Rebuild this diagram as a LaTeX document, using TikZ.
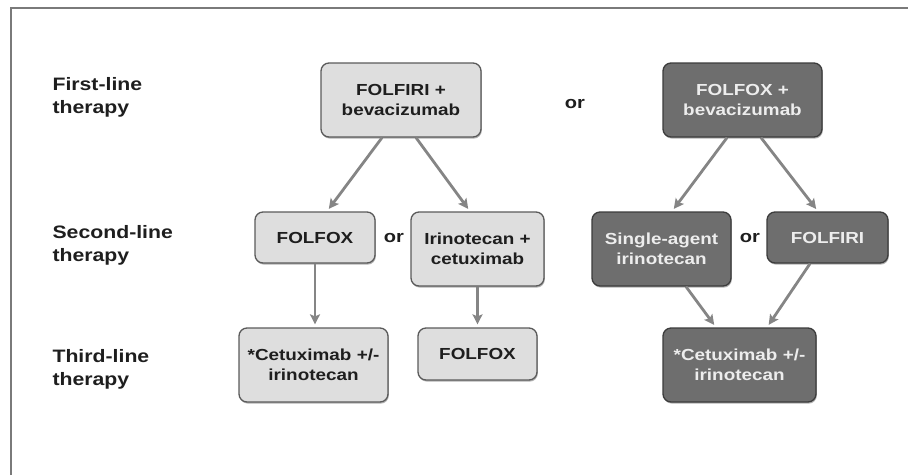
\documentclass[tikz,border=0pt]{standalone}
\usepackage{fontspec}
\setmainfont{Liberation Sans}
\newfontfamily\diagfont{Liberation Sans}[FakeStretch=1.18]
\usetikzlibrary{arrows.meta,shadows}

\definecolor{lightfill}{HTML}{DEDEDE}
\definecolor{lightedge}{HTML}{5A5A5A}
\definecolor{darkfill}{HTML}{6E6E6E}
\definecolor{darkedge}{HTML}{3C3C3C}
\definecolor{arrowgray}{HTML}{858585}
\definecolor{framegray}{HTML}{7A7A7A}
\definecolor{inktext}{HTML}{1E1E1E}

\tikzset{
  boxbase/.style={rounded corners=8pt, line width=1.3pt, align=center,
    inner sep=2pt, font=\diagfont\bfseries\fontsize{16}{20}\selectfont,
    drop shadow={shadow xshift=0.8pt, shadow yshift=-1.6pt, fill=black, opacity=0.3}},
  lightbox/.style={boxbase, fill=lightfill, draw=lightedge, text=inktext},
  darkbox/.style={boxbase, fill=darkfill, draw=darkedge, text=white!93!black},
  rowlabel/.style={anchor=west, align=left, text=inktext,
    font=\diagfont\bfseries\fontsize{18}{23}\selectfont},
  ortext/.style={text=inktext, font=\diagfont\bfseries\fontsize{17}{20}\selectfont},
  flow/.style={draw=arrowgray, line width=2.8pt,
    -{Stealth[length=10pt,width=10pt,inset=2pt]}, shorten >=3pt}
}

\begin{document}
\begin{tikzpicture}[x=1pt, y=-1pt]
  \useasboundingbox (0,0) rectangle (908,475);

  % page frame (top and left edges)
  \draw[framegray, line width=1.6pt] (11,475) -- (11,8) -- (908,8);

  % row labels
  \node[rowlabel] (lab1) at (49,97)  {First-line\\therapy};
  \node[rowlabel] (lab2) at (49,245) {Second-line\\therapy};
  \node[rowlabel] (lab3) at (49,369) {Third-line\\therapy};

  % first line
  \node[lightbox, minimum width=160pt, minimum height=74pt] (b1) at (401,100)
    {FOLFIRI +\\bevacizumab};
  \node[darkbox, minimum width=159pt, minimum height=74pt] (b2) at (742.5,100)
    {FOLFOX +\\bevacizumab};
  \node[ortext] (or1) at (575,104) {or};

  % second line
  \node[lightbox, minimum width=120pt, minimum height=51pt] (s1) at (315,237.5)
    {FOLFOX};
  \node[lightbox, minimum width=133pt, minimum height=74pt] (s2) at (477.5,249)
    {Irinotecan +\\cetuximab};
  \node[darkbox, minimum width=139pt, minimum height=74pt] (s3) at (661.5,249)
    {Single-agent\\irinotecan};
  \node[darkbox, minimum width=121pt, minimum height=51pt] (s4) at (827.5,237.5)
    {FOLFIRI};
  \node[ortext] (or2) at (394,238) {or};
  \node[ortext] (or3) at (750,238) {or};

  % third line
  \node[lightbox, minimum width=149pt, minimum height=74pt] (t1) at (313.5,365)
    {*Cetuximab +/-\\irinotecan};
  \node[lightbox, minimum width=119pt, minimum height=52pt] (t2) at (477.5,354)
    {FOLFOX};
  \node[darkbox, minimum width=153pt, minimum height=74pt] (t3) at (739.5,365)
    {*Cetuximab +/-\\irinotecan};

  % connectors
  \draw[flow] ([xshift=-19pt]b1.south) -- ([xshift=12pt]s1.north);
  \draw[flow] ([xshift=15pt]b1.south) -- ([xshift=-7.5pt]s2.north);
  \draw[flow] ([xshift=-15.5pt]b2.south) -- ([xshift=10.5pt]s3.north);
  \draw[flow] ([xshift=18.5pt]b2.south) -- ([xshift=-9.5pt]s4.north);
  \draw[flow] (s1.south) -- (s1.south |- t1.north);
  \draw[flow] (s2.south) -- (s2.south |- t2.north);
  \draw[flow] ([xshift=24.5pt]s3.south) -- ([xshift=-23.5pt]t3.north);
  \draw[flow] ([xshift=-17.5pt]s4.south) -- ([xshift=27.5pt]t3.north);
\end{tikzpicture}
\end{document}
